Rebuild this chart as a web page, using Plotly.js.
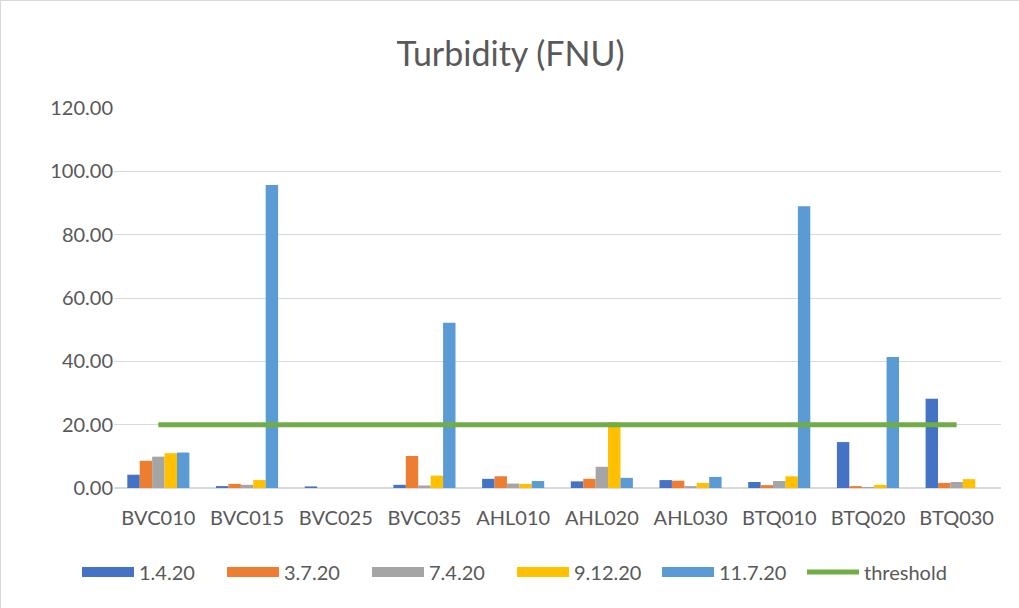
<!DOCTYPE html>
<html>
<head>
<meta charset="utf-8">
<script src="https://cdn.plot.ly/plotly-3.0.1.min.js"></script>
<style>
  body { margin: 0; background: #fff; }
  #chart { width: 1019px; height: 608px; box-sizing: border-box; border: 1px solid #d9d9d9; }
</style>
</head>
<body>
<div id="chart"></div>
<script>
// Sampling sites
const sites = ['BVC010', 'BVC015', 'BVC025', 'BVC035', 'AHL010', 'AHL020', 'AHL030', 'BTQ010', 'BTQ020', 'BTQ030'];

// Turbidity readings per sampling date (FNU); null = no reading
const dates = ['1.4.20', '3.7.20', '7.4.20', '9.12.20', '11.7.20'];
const d1_4_20   = [4.2, 0.6, 0.5, 1.0, 2.9, 2.1, 2.5, 1.9, 14.5, 28.2];
const d3_7_20   = [8.6, 1.3, null, 10.1, 3.7, 2.9, 2.3, 0.9, 0.6, 1.6];
const d7_4_20   = [9.9, 1.0, null, 0.8, 1.4, 6.7, 0.6, 2.2, 0.3, 1.9];
const d9_12_20  = [11.0, 2.5, null, 3.9, 1.3, 20.8, 1.6, 3.7, 1.0, 2.8];
const d11_7_20  = [11.2, 95.7, null, 52.2, 2.2, 3.2, 3.5, 89.0, 41.4, null];
const threshold = [20, 20, 20, 20, 20, 20, 20, 20, 20, 20];

const barColors = ['#4472C4', '#ED7D31', '#A5A5A5', '#FFC000', '#5B9BD5'];
const series = [d1_4_20, d3_7_20, d7_4_20, d9_12_20, d11_7_20];

const textColor = '#595959';
const fontFamily = 'Lato, "Open Sans", "Liberation Sans", sans-serif';

const data = [];

// bars (legend drawn by the swatch traces below, Excel-style wide boxes)
series.forEach((vals, i) => {
    data.push({
        type: 'bar',
        name: dates[i],
        legendgroup: dates[i],
        showlegend: false,
        x: sites,
        y: vals,
        marker: { color: barColors[i] },
        hovertemplate: '%{x}<br>' + dates[i] + ': %{y:.2f}<extra></extra>'
    });
});

// legend swatches: empty traces, thick line gives a wide box in the legend
dates.forEach((d, i) => {
    data.push({
        type: 'scatter',
        mode: 'lines',
        name: d,
        legendgroup: d,
        x: [null],
        y: [null],
        line: { color: barColors[i], width: 12 },
        hoverinfo: 'skip'
    });
});

// Threshold line across all sites
data.push({
    type: 'scatter',
    mode: 'lines',
    name: 'threshold',
    x: sites,
    y: threshold,
    line: { color: '#70AD47', width: 5 }
});

const layout = {
    width: 1019,
    height: 608,
    paper_bgcolor: '#ffffff',
    plot_bgcolor: '#ffffff',
    font: { family: fontFamily, color: textColor, size: 20 },
    title: {
        text: 'Turbidity (FNU)',
        font: { size: 34, color: textColor, family: fontFamily },
        x: 0.5,
        xanchor: 'center',
        y: 0.913,
        yanchor: 'middle'
    },
    barmode: 'group',
    bargap: 0.3,
    bargroupgap: 0,
    margin: { l: 113, r: 19, t: 107, b: 121 },
    xaxis: {
        type: 'category',
        tickfont: { size: 20, color: textColor },
        showgrid: false,
        showline: false,
        ticks: '',
        ticklabelstandoff: 16,
        zeroline: false
    },
    yaxis: {
        range: [0, 120],
        dtick: 20,
        tickformat: '.2f',
        tickfont: { size: 20, color: textColor },
        showgrid: true,
        gridcolor: '#d9d9d9',
        gridwidth: 1,
        zeroline: true,
        zerolinecolor: '#d9d9d9',
        zerolinewidth: 2,
        showline: false,
        ticks: '',
        ticklen: 0,
        automargin: false
    },
    legend: {
        orientation: 'h',
        xref: 'container',
        yref: 'container',
        x: 0.0746,
        xanchor: 'left',
        y: 0.061,
        yanchor: 'middle',
        itemwidth: 52,
        entrywidth: 78,
        font: { size: 20, color: textColor },
        traceorder: 'normal'
    },
    showlegend: true
};

Plotly.newPlot('chart', data, layout, { displayModeBar: false, staticPlot: true });
</script>
</body>
</html>
